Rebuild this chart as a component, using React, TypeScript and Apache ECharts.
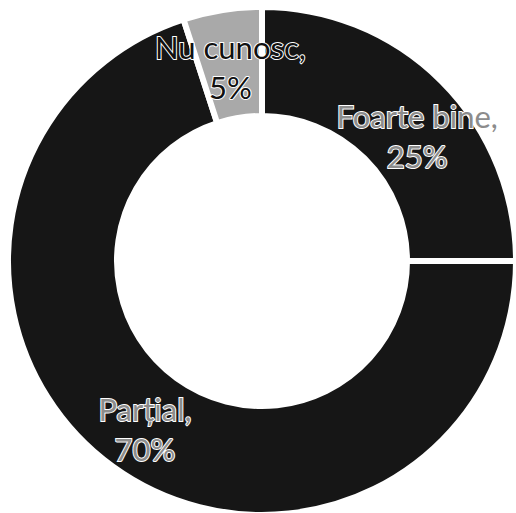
import React, { useEffect, useRef } from "react";
import * as echarts from "echarts";

const categories = ["Foarte bine", "Parțial", "Nu cunosc"];
const values = [25, 70, 5];
const colors = ["#161616", "#161616", "#a9a9a9"];
const labelColors = ["#8c8c8c", "#8c8c8c", "#111111"];
const labelOffsets = [[12, 18], [2, 4], [0, 6]];

export default function App() {
  const ref = useRef<HTMLDivElement>(null);
  useEffect(() => {
    if (!ref.current) return;
    const chart = echarts.init(ref.current, undefined, { renderer: "svg" });
    chart.setOption({
      animation: false,
      backgroundColor: "#ffffff",
      series: [
        {
          type: "pie",
          center: [262, 261],
          radius: [145, 254],
          startAngle: 90,
          clockwise: true,
          avoidLabelOverlap: false,
          data: categories.map((name, i) => ({
            name,
            value: values[i],
            itemStyle: { color: colors[i] },
            label: { color: labelColors[i], offset: labelOffsets[i] },
          })),
          itemStyle: { borderColor: "#ffffff", borderWidth: 6 },
          label: {
            show: true,
            position: "inside",
            formatter: "{b},\n{c}%",
            fontFamily: "Lato",
            fontSize: 31,
            lineHeight: 40,
            textBorderColor: "#ffffff",
            textBorderWidth: 2,
          },
          labelLine: { show: false },
          emphasis: { disabled: true },
        },
      ],
    });
    return () => chart.dispose();
  }, []);
  return (
    <div
      ref={ref}
      style={{ position: "fixed", left: 0, top: 0, width: 516, height: 513 }}
    />
  );
}
